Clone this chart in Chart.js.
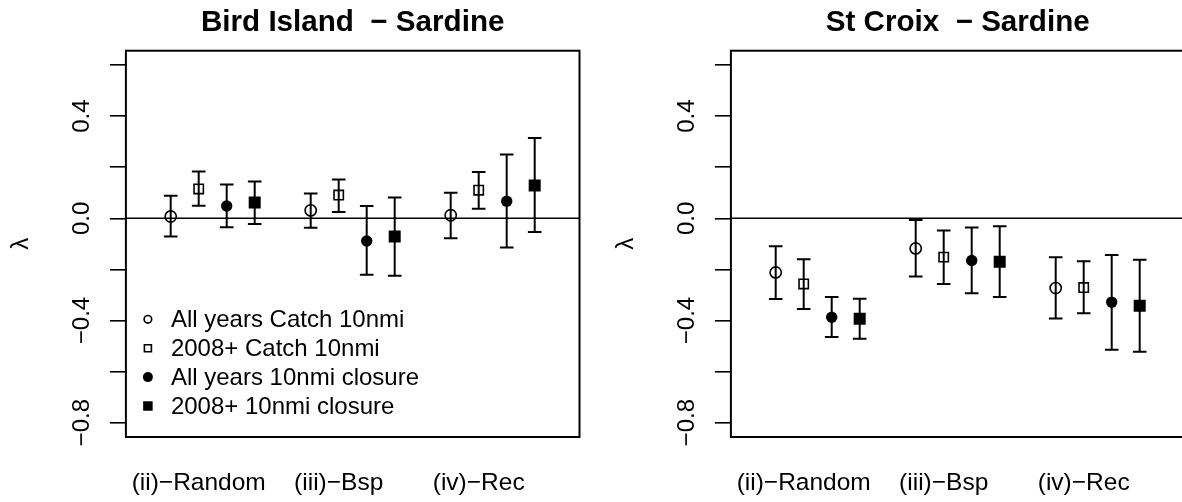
<!DOCTYPE html>
<html><head><meta charset="utf-8">
<script src="https://cdn.jsdelivr.net/npm/chart.js@4/dist/chart.umd.min.js"></script>
<style>
html,body{margin:0;padding:0;background:#fff;overflow:hidden}
#wrap{position:relative;width:1182px;height:502px;overflow:hidden;background:#fff}
canvas{position:absolute;top:0}
</style></head><body>
<div id="wrap">
<canvas id="c1" width="605" height="502" style="left:0;width:605px;height:502px"></canvas>
<canvas id="c2" width="605" height="502" style="left:605px;width:605px;height:502px"></canvas>
</div>
<script>
// ---------- data ----------
const panelTitles = ['Bird Island  \u2212 Sardine', 'St Croix  \u2212 Sardine'];
const categories = ['(ii)\u2212Random', '(iii)\u2212Bsp', '(iv)\u2212Rec'];
const categoryPos = [2, 7, 12];
const groupStart = [1, 6, 11];
const seriesNames = ['All years Catch 10nmi', '2008+ Catch 10nmi', 'All years 10nmi closure', '2008+ 10nmi closure'];
const yTickValues = [-0.8, -0.6, -0.4, -0.2, 0, 0.2, 0.4, 0.6];
const yTickLabels = ['\u22120.8', '', '\u22120.4', '', '0.0', '', '0.4', ''];
const yLimits = [-0.8, 0.6];
const xLimits = [0, 15];
const refLines = [0];

// Bird Island: rows = series, columns = categories
const birdMean  = [[0.007, 0.031, 0.012], [0.115, 0.091, 0.110], [0.048, -0.089, 0.067], [0.062, -0.071, 0.128]];
const birdLower = [[-0.071, -0.037, -0.078], [0.049, 0.025, 0.037], [-0.035, -0.221, -0.114], [-0.022, -0.225, -0.054]];
const birdUpper = [[0.088, 0.097, 0.100], [0.183, 0.152, 0.181], [0.132, 0.048, 0.250], [0.144, 0.081, 0.314]];

// St Croix
const croixMean  = [[-0.212, -0.118, -0.273], [-0.257, -0.152, -0.271], [-0.387, -0.165, -0.328], [-0.393, -0.170, -0.342]];
const croixLower = [[-0.316, -0.228, -0.392], [-0.355, -0.257, -0.372], [-0.465, -0.293, -0.514], [-0.471, -0.308, -0.522]];
const croixUpper = [[-0.109, -0.007, -0.152], [-0.160, -0.048, -0.168], [-0.308, -0.036, -0.144], [-0.315, -0.031, -0.162]];

// ---------- styles ----------
const FONT = '"Liberation Sans", Arial, Helvetica, sans-serif';
Chart.defaults.font.family = FONT;
Chart.defaults.color = '#000';

const seriesStyle = [
  {pointStyle: 'circle', radius: 5.6, bg: 'rgba(0,0,0,0)', bw: 1.6},
  {pointStyle: 'rect',   radius: 6.6, bg: 'rgba(0,0,0,0)', bw: 1.6},
  {pointStyle: 'circle', radius: 5.7, bg: '#000', bw: 0},
  {pointStyle: 'rect',   radius: 8.5, bg: '#000', bw: 0}
];
const legendStyle = [
  {shape: 'circle', size: 3.8, fill: false},
  {shape: 'rect', size: 7.0, fill: false},
  {shape: 'circle', size: 5.0, fill: true},
  {shape: 'rect', size: 9.5, fill: true}
];

// ---------- plugins ----------
const framePlugin = {
  id: 'frame',
  beforeDatasetsDraw(chart) {
    const ctx = chart.ctx, a = chart.chartArea, ys = chart.scales.y, xs = chart.scales.x;
    ctx.save();
    ctx.strokeStyle = '#000'; ctx.lineWidth = 1.5;
    refLines.forEach(v => {
      const y = ys.getPixelForValue(v);
      ctx.beginPath(); ctx.moveTo(a.left, y); ctx.lineTo(a.right, y); ctx.stroke();
    });
    ctx.lineWidth = 2; ctx.lineCap = 'butt';
    chart.data.datasets.forEach(ds => {
      if (!ds.errLo) return;
      ds.data.forEach((p, i) => {
        const x = xs.getPixelForValue(p.x);
        const y1 = ys.getPixelForValue(ds.errLo[i]);
        const y2 = ys.getPixelForValue(ds.errHi[i]);
        ctx.beginPath();
        ctx.moveTo(x, y1); ctx.lineTo(x, y2);
        ctx.moveTo(x - 6.8, y1); ctx.lineTo(x + 6.8, y1);
        ctx.moveTo(x - 6.8, y2); ctx.lineTo(x + 6.8, y2);
        ctx.stroke();
      });
    });
    ctx.restore();
  },
  afterDraw(chart, args, opts) {
    const ctx = chart.ctx, a = chart.chartArea;
    ctx.save();
    ctx.strokeStyle = '#000'; ctx.lineWidth = 2;
    ctx.strokeRect(a.left, a.top, a.right - a.left, a.bottom - a.top);
    if (opts && opts.legend) {
      ctx.font = '24px ' + FONT;
      ctx.textBaseline = 'middle'; ctx.textAlign = 'left';
      const n = chart.data.datasets.length;
      chart.data.datasets.forEach((ds, i) => {
        const st = legendStyle[i];
        const y = a.bottom - 31 - (n - 1 - i) * 28.9;
        const x = a.left + 22;
        ctx.fillStyle = '#000'; ctx.strokeStyle = '#000'; ctx.lineWidth = 1.6;
        ctx.beginPath();
        if (st.shape === 'circle') ctx.arc(x, y, st.size, 0, Math.PI * 2);
        else ctx.rect(x - st.size / 2, y - st.size / 2, st.size, st.size);
        if (st.fill) ctx.fill(); else ctx.stroke();
        ctx.fillText(ds.label, a.left + 45, y + 1);
      });
    }
    ctx.restore();
  }
};

function makeChart(id, title, mean, lower, upper, showLegend) {
  const datasets = seriesNames.map((name, s) => ({
    label: name,
    data: categories.map((c, g) => ({x: groupStart[g] + s, y: mean[s][g]})),
    errLo: lower[s],
    errHi: upper[s],
    pointStyle: seriesStyle[s].pointStyle,
    pointRadius: seriesStyle[s].radius,
    pointHoverRadius: seriesStyle[s].radius,
    backgroundColor: seriesStyle[s].bg,
    borderColor: '#000',
    borderWidth: seriesStyle[s].bw,
    pointBorderWidth: seriesStyle[s].bw,
    showLine: false
  }));
  const yPad = (yLimits[1] - yLimits[0]) * 0.04;
  const xPad = (xLimits[1] - xLimits[0]) * 0.04;
  return new Chart(document.getElementById(id), {
    type: 'scatter',
    data: {datasets},
    options: {
      responsive: false,
      animation: false,
      devicePixelRatio: 1,
      events: [],
      layout: {padding: {left: 0, right: 25.5, top: 0, bottom: 0}},
      plugins: {
        legend: {display: false},
        tooltip: {enabled: false},
        title: {
          display: true, text: title, fullSize: false,
          font: {size: 29.6, weight: 'bold', family: FONT}, color: '#000',
          padding: {top: 5.0, bottom: 10.2}
        },
        frame: {legend: showLegend}
      },
      scales: {
        x: {
          type: 'linear',
          min: xLimits[0] - xPad, max: xLimits[1] + xPad,
          afterBuildTicks: (sc) => { sc.ticks = categoryPos.map(v => ({value: v})); },
          afterFit: (sc) => { sc.height = 65; },
          grid: {display: false, drawTicks: false},
          border: {display: false},
          ticks: {
            autoSkip: false, maxRotation: 0, minRotation: 0, padding: 32,
            font: {size: 24.5, family: FONT}, color: '#000',
            callback: (v, i) => categories[i]
          }
        },
        y: {
          type: 'linear',
          min: yLimits[0] - yPad, max: yLimits[1] + yPad,
          afterBuildTicks: (sc) => { sc.ticks = yTickValues.map(v => ({value: v})); },
          afterFit: (sc) => { sc.width = 125.9; },
          grid: {drawOnChartArea: false, drawTicks: true, tickLength: 16, color: '#000', lineWidth: 1.6},
          border: {display: false},
          title: {display: true, text: '\u03bb', font: {size: 24, family: FONT}, color: '#000', padding: {top: 7, bottom: 0}},
          ticks: {
            autoSkip: false, minRotation: 90, maxRotation: 90, crossAlign: 'center', padding: 4,
            font: {size: 24, family: FONT}, color: '#000',
            callback: (v, i) => yTickLabels[i]
          }
        }
      }
    },
    plugins: [framePlugin]
  });
}

makeChart('c1', panelTitles[0], birdMean, birdLower, birdUpper, true);
makeChart('c2', panelTitles[1], croixMean, croixLower, croixUpper, false);
</script>
</body></html>
